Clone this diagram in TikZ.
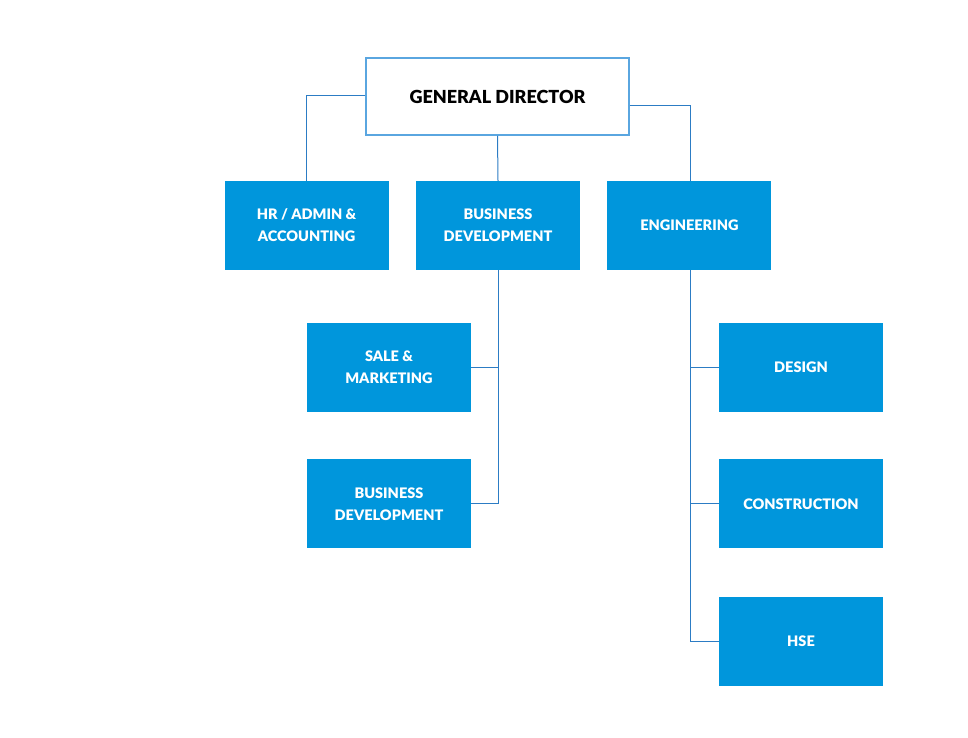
\documentclass[tikz,border=0pt]{standalone}
\usepackage{fontspec}
\setmainfont{Lato}[BoldFont={Lato Black}]
\usetikzlibrary{positioning}
\definecolor{orgblue}{HTML}{0096DC}
\definecolor{orgframe}{HTML}{5AA6E0}
\definecolor{orgline}{HTML}{2C7CC4}

\begin{document}
\begin{tikzpicture}[
  x=1pt, y=-1pt,
  font=\bfseries\fontsize{14.5}{22}\selectfont,
  headbox/.style={draw=orgframe, line width=1.5pt, fill=white, inner sep=0pt,
              align=center, minimum width=263pt, minimum height=77pt,
              font=\bfseries\fontsize{18}{20}\selectfont},
  unit/.style={fill=orgblue, text=white, inner sep=0pt, align=center,
              minimum width=164pt, minimum height=89pt},
  link/.style={draw=orgline, line width=1pt}
]
  \useasboundingbox (0,0) rectangle (968,737);

  \node[headbox] (director) at (497.5,96.5) {GENERAL DIRECTOR};

  \node[unit] (bizdev) at (498,225.5) {BUSINESS\\DEVELOPMENT};
  \node[unit, left=27pt of bizdev] (hradmin) {HR / ADMIN \&\\ACCOUNTING};
  \node[unit, right=27pt of bizdev] (engineering) {ENGINEERING};

  \node[unit] (sales) at (389,367.5) {SALE \&\\MARKETING};
  \node[unit, below=47pt of sales] (bizdevsub) {BUSINESS\\DEVELOPMENT};

  \node[unit] (design) at (801,367.5) {DESIGN};
  \node[unit, below=47pt of design] (construction) {CONSTRUCTION};
  \node[unit, below=48pt of construction] (hse) {HSE};

  \draw[link] ([yshift=1.5pt]director.west) -| (hradmin.north);
  \draw[link] (director.south) -- (bizdev.north);
  \draw[link] ([yshift=-8.5pt]director.east) -| ([xshift=1.5pt]engineering.north);

  \draw[link] (bizdev.south) |- (sales.east);
  \draw[link] (bizdev.south) |- (bizdevsub.east);

  \draw[link] ([xshift=1.5pt]engineering.south) |- (design.west);
  \draw[link] ([xshift=1.5pt]engineering.south) |- (construction.west);
  \draw[link] ([xshift=1.5pt]engineering.south) |- (hse.west);
\end{tikzpicture}
\end{document}
